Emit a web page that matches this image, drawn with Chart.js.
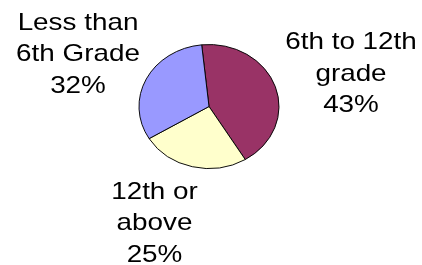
<!DOCTYPE html>
<html>
<head>
<meta charset="utf-8">
<script src="https://cdn.jsdelivr.net/npm/chart.js@4.4.1/dist/chart.umd.min.js"></script>
<style>
html,body{margin:0;padding:0;background:#fff;}
#wrap{width:422px;height:265px;position:relative;}
</style>
</head>
<body>
<div id="wrap"><canvas id="c" width="422" height="265"></canvas></div>
<script>
const categories = ["6th to 12th grade", "12th or above", "Less than 6th Grade"];
const labelLines = [["6th to 12th", "grade"], ["12th or", "above"], ["Less than", "6th Grade"]];
const values = [43, 25, 32];
const colors = ["#993366", "#FFFFCC", "#9999FF"];

const ellipsePlugin = {
  id: 'ellipse',
  beforeDatasetsDraw(chart, args, opts) {
    const arc = chart.getDatasetMeta(0).data[0];
    const ctx = chart.ctx;
    ctx.save();
    ctx.translate(arc.x, arc.y);
    ctx.scale(1, opts.yScale);
    ctx.translate(-arc.x, -arc.y);
  },
  afterDatasetsDraw(chart) {
    chart.ctx.restore();
  }
};

const labelPlugin = {
  id: 'outLabels',
  afterDraw(chart, args, opts) {
    const ctx = chart.ctx;
    const meta = chart.getDatasetMeta(0);
    const total = values.reduce((a, b) => a + b, 0);
    ctx.save();
    ctx.fillStyle = '#000';
    ctx.font = opts.font;
    ctx.textAlign = 'center';
    ctx.textBaseline = 'alphabetic';
    meta.data.forEach((arc, i) => {
      const lines = labelLines[i].concat([Math.round(values[i] / total * 100) + '%']);
      const cx = arc.x + opts.offsets[i][0];
      const cy = arc.y + opts.offsets[i][1];
      lines.forEach((t, k) => {
        ctx.save();
        ctx.translate(cx, cy + (k - 1) * opts.lineHeight);
        ctx.scale(opts.xStretch, 1);
        ctx.fillText(t, 0, 0);
        ctx.restore();
      });
    });
    ctx.restore();
  }
};

new Chart(document.getElementById('c'), {
  type: 'pie',
  data: {
    labels: categories,
    datasets: [{
      data: values,
      backgroundColor: colors,
      borderColor: '#000',
      borderWidth: 1,
      radius: 70
    }]
  },
  options: {
    responsive: false,
    animation: false,
    rotation: -6,
    layout: { padding: { left: 0, right: 4, top: 0, bottom: 52 } },
    plugins: {
      legend: { display: false },
      tooltip: { enabled: false },
      ellipse: { yScale: 62 / 70 },
      outLabels: {
        font: '24px "Liberation Sans", Arial, sans-serif',
        xStretch: 1.16,
        lineHeight: 31.5,
        offsets: [[142, -25.7], [-54.5, 123.5], [-131, -45.5]]
      }
    }
  },
  plugins: [ellipsePlugin, labelPlugin]
});
</script>
</body>
</html>
